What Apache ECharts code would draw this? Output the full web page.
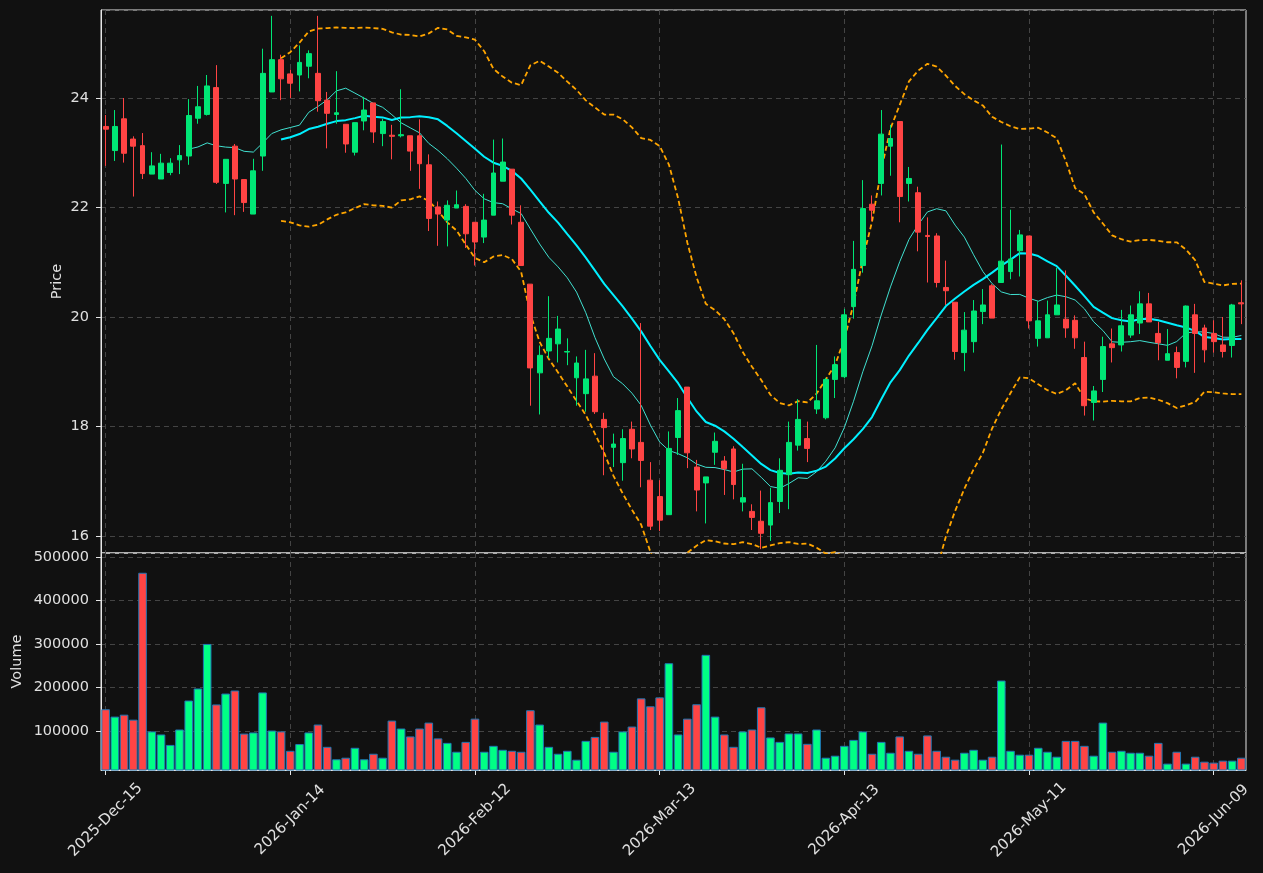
<!DOCTYPE html>
<html>
<head>
<meta charset="utf-8">
<title>Price / Volume</title>
<script src="https://cdn.jsdelivr.net/npm/echarts@6.0.0/dist/echarts.min.js"></script>
<style>
	html, body { margin: 0; padding: 0; background: #111111; }
	#chart { width: 1263px; height: 873px; }
</style>
</head>
<body>
<div id="chart"></div>
<script>
// trading calendar: weekdays from the first bar, skipping market holidays
const startDate = '2025-12-15';
const barCount = 124;
const holidays = ['2025-12-25', '2026-01-01', '2026-01-19', '2026-02-16', '2026-04-03', '2026-05-25'];
const monthNames = ['Jan', 'Feb', 'Mar', 'Apr', 'May', 'Jun', 'Jul', 'Aug', 'Sep', 'Oct', 'Nov', 'Dec'];

// OHLC
const opens = [
	23.48, 23.04, 23.62, 23.25, 23.13, 22.61, 22.52, 22.64, 22.87, 22.94,
	23.63, 23.70, 24.19, 22.44, 23.12, 22.51, 21.88, 22.94, 24.11, 24.70,
	24.44, 24.42, 24.58, 24.45, 23.96, 23.70, 23.52, 23.01, 23.58, 23.91,
	23.35, 23.32, 23.31, 23.31, 23.31, 22.78, 22.01, 21.77, 21.99, 22.02,
	21.73, 21.46, 21.86, 22.48, 22.70, 21.73, 20.60, 18.98, 19.38, 19.51,
	19.36, 18.89, 18.60, 18.92, 18.13, 17.62, 17.34, 17.95, 17.71, 17.02,
	16.72, 16.39, 17.80, 18.72, 17.26, 16.97, 17.53, 17.37, 17.59, 16.62,
	16.45, 16.27, 16.20, 16.63, 17.12, 17.66, 17.78, 18.32, 18.16, 18.86,
	18.91, 20.19, 20.94, 22.06, 22.44, 23.12, 23.57, 22.44, 22.27, 21.49,
	21.48, 20.54, 20.27, 19.35, 19.55, 20.10, 20.57, 20.63, 20.83, 21.21,
	21.48, 19.61, 19.62, 20.04, 19.96, 19.94, 19.26, 18.44, 18.86, 19.51,
	19.49, 19.67, 19.89, 20.24, 19.70, 19.21, 19.35, 19.19, 20.04, 19.80,
	19.70, 19.49, 19.48, 20.26,
];
const closes = [
	23.43, 23.48, 22.99, 23.12, 22.62, 22.76, 22.81, 22.81, 22.95, 23.68,
	23.84, 24.22, 22.46, 22.88, 22.52, 22.09, 22.67, 24.45, 24.70, 24.35,
	24.27, 24.65, 24.81, 23.95, 23.72, 23.73, 23.16, 23.55, 23.78, 23.38,
	23.57, 23.30, 23.33, 23.03, 22.80, 21.80, 21.88, 22.04, 22.05, 21.52,
	21.37, 21.77, 22.63, 22.83, 21.86, 20.94, 19.07, 19.30, 19.61, 19.78,
	19.37, 19.16, 18.87, 18.27, 17.98, 17.68, 17.78, 17.59, 17.38, 16.18,
	16.29, 17.60, 18.29, 17.52, 16.84, 17.08, 17.73, 17.23, 16.94, 16.70,
	16.34, 16.05, 16.61, 17.20, 17.71, 18.13, 17.60, 18.47, 18.86, 19.13,
	20.04, 20.87, 21.98, 21.95, 23.34, 23.26, 22.20, 22.53, 21.55, 21.47,
	20.63, 20.48, 19.37, 19.76, 20.11, 20.22, 19.98, 21.02, 21.06, 21.50,
	19.93, 19.93, 20.04, 20.22, 19.80, 19.62, 18.38, 18.65, 19.46, 19.44,
	19.84, 20.04, 20.24, 19.91, 19.53, 19.33, 19.08, 20.20, 19.70, 19.40,
	19.55, 19.37, 20.22, 20.24,
];
const lows = [
	22.76, 22.85, 22.82, 22.20, 22.52, 22.61, 22.52, 22.59, 22.61, 22.78,
	23.53, 23.68, 22.43, 21.91, 21.86, 21.92, 21.88, 22.67, 24.11, 23.96,
	24.00, 24.12, 24.36, 23.75, 23.08, 23.53, 23.00, 22.95, 23.41, 23.18,
	23.12, 22.88, 23.28, 22.67, 22.34, 21.57, 21.30, 21.29, 21.99, 21.26,
	20.94, 21.35, 21.86, 22.48, 21.69, 20.94, 18.38, 18.22, 19.25, 19.17,
	19.12, 18.38, 18.27, 18.23, 17.11, 17.26, 17.01, 17.42, 16.89, 16.11,
	16.09, 16.39, 17.48, 17.24, 16.45, 16.23, 17.30, 16.75, 16.67, 16.45,
	16.11, 15.76, 15.91, 16.42, 16.49, 17.56, 17.35, 18.23, 18.13, 18.52,
	18.88, 19.97, 20.81, 21.75, 22.22, 22.58, 21.73, 22.11, 21.20, 20.63,
	20.54, 20.22, 19.22, 19.01, 19.35, 19.87, 19.98, 20.63, 20.69, 20.74,
	19.79, 19.46, 19.62, 20.04, 19.62, 19.42, 18.20, 18.11, 18.63, 19.17,
	19.37, 19.62, 19.69, 19.91, 19.21, 19.21, 18.88, 19.08, 18.98, 19.17,
	19.35, 19.26, 19.26, 19.87,
];
const highs = [
	23.69, 23.78, 24.00, 23.30, 23.36, 23.01, 22.98, 22.90, 23.14, 23.98,
	24.22, 24.42, 24.60, 22.88, 23.16, 22.51, 22.89, 24.90, 25.50, 24.79,
	24.52, 24.96, 24.87, 25.50, 24.11, 24.49, 23.52, 23.55, 24.02, 23.91,
	23.62, 23.51, 24.16, 23.31, 23.61, 22.97, 22.11, 22.13, 22.31, 22.06,
	21.73, 22.25, 23.24, 23.26, 22.70, 22.04, 20.60, 19.48, 20.38, 20.02,
	19.61, 19.28, 19.40, 19.34, 18.25, 17.87, 17.95, 18.09, 19.89, 17.35,
	17.02, 17.91, 18.52, 18.72, 17.39, 17.08, 17.89, 17.46, 17.64, 17.32,
	16.58, 16.83, 16.88, 17.42, 18.09, 18.50, 18.09, 19.49, 18.89, 19.28,
	20.15, 21.39, 22.50, 22.22, 23.78, 23.51, 23.57, 22.74, 22.38, 21.82,
	21.53, 21.03, 20.27, 20.09, 20.31, 20.51, 20.60, 23.15, 21.96, 21.59,
	21.48, 20.29, 20.30, 20.90, 20.85, 20.03, 19.55, 18.74, 19.64, 19.79,
	20.13, 20.21, 20.47, 20.44, 19.91, 19.78, 19.46, 20.21, 20.24, 19.86,
	19.94, 20.00, 20.24, 20.67,
];
const volumes = [
	150000, 133000, 137500, 126000, 463600, 99000, 92000, 68000, 103400, 170000,
	197700, 300000, 161000, 186000, 193000, 94000, 96600, 188600, 101000, 99000,
	54500, 70000, 96600, 114800, 63600, 35000, 38600, 61400, 35000, 47700,
	38600, 123900, 105700, 87500, 105700, 119300, 83000, 72700, 52300, 75000,
	128400, 52300, 65900, 56800, 54500, 52300, 147700, 114800, 63600, 47700,
	54500, 34000, 77300, 86400, 121600, 52300, 98900, 110200, 175000, 156800,
	177300, 255700, 92000, 128400, 161400, 275000, 133000, 92000, 63600, 98900,
	103400, 154500, 85200, 75000, 94300, 94300, 70500, 103400, 38600, 43200,
	65900, 79500, 98900, 47700, 75000, 50000, 87500, 54500, 47700, 89800,
	54500, 40900, 34100, 50000, 56800, 34100, 40900, 215900, 54500, 45500,
	45500, 61400, 52300, 40900, 77300, 77300, 65900, 43200, 119300, 52300,
	54500, 50000, 50000, 43200, 72700, 25000, 52300, 25000, 40900, 29500,
	27300, 31800, 31800, 38600,
];

const upColor = '#00e676';
const downColor = '#ff4444';
const textColor = '#e0e0e0';
const frameColor = '#e6e6e6';
const gridColor = '#444444';

function pad(n) {
	return n < 10 ? '0' + n : '' + n;
}

function tradingDays(start, count) {
	const out = [];
	const d = new Date(start + 'T00:00:00Z');
	while (out.length < count) {
		const iso = d.getUTCFullYear() + '-' + pad(d.getUTCMonth() + 1) + '-' + pad(d.getUTCDate());
		const wd = d.getUTCDay();
		if (wd !== 0 && wd !== 6 && holidays.indexOf(iso) < 0) {
			out.push(d.getUTCFullYear() + '-' + monthNames[d.getUTCMonth()] + '-' + pad(d.getUTCDate()));
		}
		d.setUTCDate(d.getUTCDate() + 1);
	}
	return out;
}

// rolling mean / bollinger from the closes
function movingAvg(values, n) {
	return values.map((v, i) => {
		if (i < n - 1) return '-';
		let s = 0;
		for (let k = i - n + 1; k <= i; k++) s += values[k];
		return +(s / n).toFixed(4);
	});
}

function bollinger(values, n, k, sign) {
	const ma = movingAvg(values, n);
	return values.map((v, i) => {
		if (i < n - 1) return '-';
		let ss = 0;
		for (let j = i - n + 1; j <= i; j++) ss += (values[j] - ma[i]) ** 2;
		const sd = Math.sqrt(ss / (n - 1));
		return +(ma[i] + sign * k * sd).toFixed(4);
	});
}

const dates = tradingDays(startDate, barCount);
const candles = opens.map((o, i) => [o, closes[i], lows[i], highs[i]]);
const volumeBars = volumes.map((v, i) => ({
	value: v,
	itemStyle: { color: closes[i] >= opens[i] ? '#00ff85' : downColor },
}));

const splitStyle = { color: gridColor, type: [5, 4], width: 1 };

const myChart = echarts.init(document.getElementById('chart'), null, { renderer: 'canvas' });
const option = {
	animation: false,
	backgroundColor: '#111111',
	textStyle: { fontFamily: 'DejaVu Sans' },
	grid: [
		{ left: 101, right: 17, top: 10, height: 543, show: true, borderColor: frameColor, borderWidth: 1, containLabel: false, outerBoundsMode: 'none' },
		{ left: 101, right: 17, top: 553, height: 217, show: true, borderColor: frameColor, borderWidth: 1, containLabel: false, outerBoundsMode: 'none' },
	],
	xAxis: [
		{
			type: 'category',
			gridIndex: 0,
			data: dates,
			axisLine: { show: false },
			axisTick: { show: false },
			axisLabel: { show: false },
			splitLine: { show: true, interval: 19, alignWithLabel: true, lineStyle: splitStyle },
		},
		{
			type: 'category',
			gridIndex: 1,
			data: dates,
			axisLine: { lineStyle: { color: frameColor } },
			axisTick: { show: true, interval: 19, alignWithLabel: true, length: 5, lineStyle: { color: frameColor } },
			// centred under the tick, the way the rotated labels sit in the original
			axisLabel: { interval: 19, rotate: 45, margin: 50, align: 'center', verticalAlign: 'middle', color: textColor, fontSize: 15 },
			splitLine: { show: true, interval: 19, alignWithLabel: true, lineStyle: splitStyle },
		},
	],
	yAxis: [
		{
			type: 'value',
			gridIndex: 0,
			min: 15.69,
			max: 25.607,
			splitNumber: 5,
			name: 'Price',
			nameLocation: 'middle',
			nameGap: 36,
			nameMoveOverlap: false,
			nameTextStyle: { color: textColor, fontSize: 14.5 },
			axisLine: { show: true, lineStyle: { color: frameColor } },
			axisTick: { show: true, length: 5, lineStyle: { color: frameColor } },
			axisLabel: { showMinLabel: false, showMaxLabel: false, margin: 12, color: textColor, fontSize: 14.5, formatter: (v) => String(v) },
			splitLine: { show: true, lineStyle: splitStyle },
		},
		{
			type: 'value',
			gridIndex: 1,
			min: 10345,
			max: 509000,
			splitNumber: 5,
			name: 'Volume',
			nameLocation: 'middle',
			nameGap: 76,
			nameMoveOverlap: false,
			nameTextStyle: { color: textColor, fontSize: 14.5 },
			axisLine: { show: true, lineStyle: { color: frameColor } },
			axisTick: { show: true, length: 5, lineStyle: { color: frameColor } },
			axisLabel: { showMinLabel: false, showMaxLabel: false, margin: 12, color: textColor, fontSize: 14.5, formatter: (v) => String(v) },
			splitLine: { show: true, lineStyle: splitStyle },
		},
	],
	series: [
		{
			name: 'MA10',
			type: 'line',
			data: movingAvg(closes, 10),
			showSymbol: false,
			z: 1,
			lineStyle: { color: '#40e0d0', width: 1 },
		},
		{
			name: 'MA20',
			type: 'line',
			data: movingAvg(closes, 20),
			showSymbol: false,
			z: 1,
			lineStyle: { color: '#00f0ff', width: 2 },
		},
		{
			name: 'Upper',
			type: 'line',
			data: bollinger(closes, 20, 2, 1),
			showSymbol: false,
			z: 1,
			lineStyle: { color: '#ffa500', width: 1.8, type: [5, 3] },
		},
		{
			name: 'Lower',
			type: 'line',
			data: bollinger(closes, 20, 2, -1),
			showSymbol: false,
			z: 1,
			lineStyle: { color: '#ffa500', width: 1.8, type: [5, 3] },
		},
		{
			name: 'Price',
			type: 'candlestick',
			data: candles,
			barWidth: '58%',
			z: 2,
			itemStyle: {
				color: upColor,
				color0: downColor,
				borderColor: upColor,
				borderColor0: downColor,
				borderWidth: 1,
			},
		},
		{
			name: 'Volume',
			type: 'bar',
			xAxisIndex: 1,
			yAxisIndex: 1,
			data: volumeBars,
			barCategoryGap: '7%',
			itemStyle: { borderColor: '#1f77b4', borderWidth: 1 },
		},
	],
};
myChart.setOption(option);
</script>
</body>
</html>
